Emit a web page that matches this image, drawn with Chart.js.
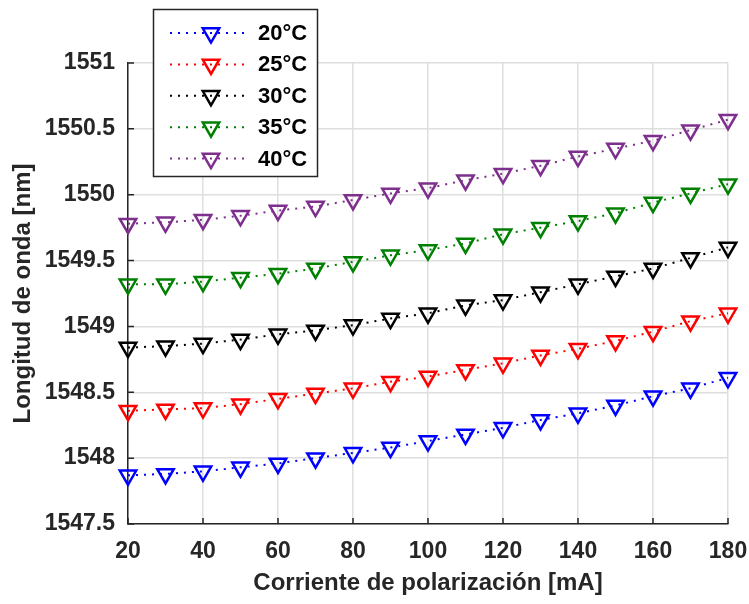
<!DOCTYPE html>
<html><head><meta charset="utf-8">
<script src="https://cdn.jsdelivr.net/npm/chart.js@4/dist/chart.umd.min.js"></script>
<style>html,body{margin:0;padding:0;background:#fff}canvas{display:block}</style>
</head><body>
<canvas id="c" width="749" height="604" style="width:749px;height:604px"></canvas>
<script>
const corriente = [20, 30, 40, 50, 60, 70, 80, 90, 100, 110, 120, 130, 140, 150, 160, 170, 180];
const t20 = [1547.87, 1547.88, 1547.90, 1547.93, 1547.96, 1548.00, 1548.04, 1548.08, 1548.13, 1548.18, 1548.23, 1548.29, 1548.34, 1548.40, 1548.47, 1548.53, 1548.61];
const t25 = [1548.36, 1548.37, 1548.38, 1548.41, 1548.45, 1548.49, 1548.53, 1548.58, 1548.62, 1548.67, 1548.72, 1548.78, 1548.83, 1548.89, 1548.96, 1549.04, 1549.10];
const t30 = [1548.84, 1548.85, 1548.87, 1548.90, 1548.94, 1548.97, 1549.01, 1549.06, 1549.10, 1549.16, 1549.20, 1549.26, 1549.32, 1549.38, 1549.44, 1549.52, 1549.60];
const t35 = [1549.32, 1549.32, 1549.34, 1549.37, 1549.40, 1549.44, 1549.49, 1549.54, 1549.58, 1549.63, 1549.70, 1549.75, 1549.80, 1549.86, 1549.94, 1550.01, 1550.08];
const t40 = [1549.78, 1549.79, 1549.81, 1549.84, 1549.88, 1549.91, 1549.96, 1550.01, 1550.05, 1550.11, 1550.16, 1550.22, 1550.29, 1550.35, 1550.41, 1550.49, 1550.57];
const seriesLabels = ['20°C', '25°C', '30°C', '35°C', '40°C'];
const xTicks = [20, 40, 60, 80, 100, 120, 140, 160, 180];
const yTicks = [1547.5, 1548, 1548.5, 1549, 1549.5, 1550, 1550.5, 1551];
const xTitle = 'Corriente de polarización [mA]';
const yTitle = 'Longitud de onda [nm]';

const palette = ['#0000ff', '#ff0000', '#000000', '#008000', '#7e2f8e'];
const FAMILY = '"Liberation Sans", Arial, Helvetica, sans-serif';
const TXT = '#262626';
const series = [t20, t25, t30, t35, t40];

const datasets = series.map((vals, k) => ({
  label: seriesLabels[k],
  data: vals.map((v, i) => ({ x: corriente[i], y: v })),
  borderColor: palette[k],
  backgroundColor: 'rgba(0,0,0,0)',
  borderWidth: 2,
  borderDash: [2, 6],
  borderCapStyle: 'butt',
  tension: 0,
  pointStyle: 'triangle',
  pointRotation: 180,
  pointRadius: 9.5,
  pointBorderWidth: 2.5,
  pointBorderColor: palette[k],
  pointBackgroundColor: 'rgba(0,0,0,0)',
  clip: false
}));

function tri(ctx, x, y, r) {
  let rad = Math.PI;
  ctx.beginPath();
  ctx.moveTo(x + Math.sin(rad) * r, y - Math.cos(rad) * r);
  rad += 2 * Math.PI / 3;
  ctx.lineTo(x + Math.sin(rad) * r, y - Math.cos(rad) * r);
  rad += 2 * Math.PI / 3;
  ctx.lineTo(x + Math.sin(rad) * r, y - Math.cos(rad) * r);
  ctx.closePath();
}

const tickPlugin = {
  id: 'inTicks',
  afterDraw(chart) {
    const { ctx, chartArea: a, scales: { x, y } } = chart;
    ctx.save();
    ctx.strokeStyle = TXT;
    ctx.lineWidth = 1.5;
    ctx.beginPath();
    x.ticks.forEach(t => { const px = x.getPixelForValue(t.value); ctx.moveTo(px, a.bottom); ctx.lineTo(px, a.bottom - 6); });
    y.ticks.forEach(t => { const py = y.getPixelForValue(t.value); ctx.moveTo(a.left, py); ctx.lineTo(a.left + 6, py); });
    ctx.stroke();
    ctx.restore();
  }
};

const legendPlugin = {
  id: 'boxLegend',
  afterDraw(chart) {
    const ctx = chart.ctx;
    const L = 153.5, T = 9.5, W = 164, H = 167;
    ctx.save();
    ctx.fillStyle = '#ffffff';
    ctx.fillRect(L, T, W, H);
    ctx.strokeStyle = TXT;
    ctx.lineWidth = 1.5;
    ctx.strokeRect(L, T, W, H);
    chart.data.datasets.forEach((ds, k) => {
      const yy = 33 + k * 31.4;
      ctx.strokeStyle = ds.borderColor;
      ctx.lineWidth = ds.borderWidth;
      ctx.setLineDash(ds.borderDash);
      ctx.beginPath();
      ctx.moveTo(170, yy);
      ctx.lineTo(246, yy);
      ctx.stroke();
      ctx.setLineDash([]);
      ctx.lineWidth = ds.pointBorderWidth;
      tri(ctx, 211, yy, ds.pointRadius);
      ctx.stroke();
      ctx.fillStyle = '#000000';
      ctx.font = 'bold 22px ' + FAMILY;
      ctx.textBaseline = 'middle';
      ctx.textAlign = 'left';
      ctx.fillText(ds.label, 258, yy + 1);
    });
    ctx.restore();
  }
};

const tickFont = { family: FAMILY, size: 23, weight: 'bold' };
const titleFont = { family: FAMILY, size: 24, weight: 'bold' };

new Chart(document.getElementById('c'), {
  type: 'line',
  data: { datasets },
  options: {
    animation: false,
    responsive: false,
    devicePixelRatio: 1,
    layout: { padding: { top: 63, right: 21, left: 0, bottom: 0 } },
    plugins: { legend: { display: false }, tooltip: { enabled: false } },
    scales: {
      x: {
        type: 'linear', min: 20, max: 180,
        afterBuildTicks: s => { s.ticks = xTicks.map(v => ({ value: v })); },
        afterFit: s => { s.height = 80; s.paddingLeft = 0; s.paddingRight = 0; },
        grid: { color: '#dedede', lineWidth: 1.5, drawTicks: false },
        border: { display: true, color: TXT, width: 1.5 },
        ticks: { padding: 14, color: TXT, font: tickFont, maxRotation: 0, autoSkip: false, callback: v => String(v) },
        title: { display: true, text: xTitle, color: TXT, font: titleFont, padding: { top: 0, bottom: 6 } }
      },
      y: {
        type: 'linear', min: 1547.5, max: 1551,
        afterBuildTicks: s => { s.ticks = yTicks.map(v => ({ value: v })); },
        afterFit: s => { s.width = 128; s.paddingTop = 0; s.paddingBottom = 0; },
        grid: { color: '#dedede', lineWidth: 1.5, drawTicks: false },
        border: { display: true, color: TXT, width: 1.5 },
        ticks: { padding: 13, color: TXT, font: tickFont, autoSkip: false, callback: v => String(v) },
        title: { display: true, text: yTitle, color: TXT, font: titleFont, padding: { top: 9, bottom: 0 } }
      }
    }
  },
  plugins: [tickPlugin, legendPlugin]
});
</script>
</body></html>
